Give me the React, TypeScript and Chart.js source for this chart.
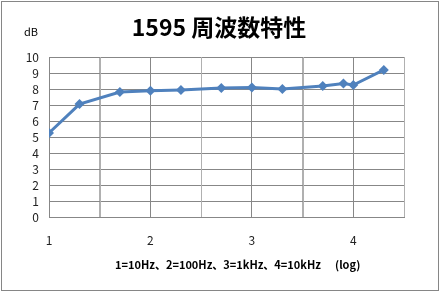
import React, { useEffect, useRef } from "react";
import { Chart, registerables } from "chart.js";

Chart.register(...registerables);

const logFreq: number[] = [1, 1.301, 1.699, 2, 2.301, 2.699, 3, 3.301, 3.699, 3.903, 4, 4.301];
const gainDb: number[] = [5.25, 7.06, 7.81, 7.89, 7.94, 8.06, 8.1, 8.0, 8.19, 8.35, 8.25, 9.19];
const xTickLabels: string[] = ["1", "2", "3", "4"];
const yTickValues: number[] = [0, 1, 2, 3, 4, 5, 6, 7, 8, 9, 10];
const xGridValues: number[] = [1, 1.5, 2, 2.5, 3, 3.5, 4, 4.5];
const titleText = "1595 周波数特性";
const yUnitText = "dB";
const xCaption = "1=10Hz、2=100Hz、3=1kHz、4=10kHz";
const xCaptionLog = "(log)";

const FONT = "'Noto Sans CJK JP', 'Noto Sans', sans-serif";
const MAJOR_GRID = "#878787";
const MINOR_GRID = "#b0b0b0";

const halfGridPlugin = {
  id: "halfGrid",
  beforeDatasetsDraw(chart: any) {
    const { ctx, chartArea, scales } = chart;
    ctx.save();
    ctx.strokeStyle = MINOR_GRID;
    ctx.lineWidth = 1;
    xGridValues.forEach((v) => {
      if (Number.isInteger(v)) return;
      const px = Math.round(scales.x.getPixelForValue(v)) + 0.5;
      ctx.beginPath();
      ctx.moveTo(px, chartArea.top);
      ctx.lineTo(px, chartArea.bottom);
      ctx.stroke();
    });
    ctx.restore();
  },
};

const textPlugin = {
  id: "texts",
  afterDraw(chart: any) {
    const ctx = chart.ctx;
    ctx.save();
    ctx.fillStyle = "#000";
    ctx.textBaseline = "middle";
    ctx.textAlign = "center";
    ctx.font = `bold 23px ${FONT}`;
    ctx.fillText(titleText, 219, 27);
    ctx.font = `11px ${FONT}`;
    ctx.fillText(yUnitText, 31, 32);
    ctx.textAlign = "left";
    ctx.font = `bold 11px ${FONT}`;
    ctx.fillText(xCaption, 115, 265);
    ctx.fillText(xCaptionLog, 335, 265);
    ctx.restore();
  },
};

export default function App() {
  const ref = useRef<HTMLCanvasElement | null>(null);
  useEffect(() => {
    if (!ref.current) return;
    const chart = new Chart(ref.current, {
      type: "scatter",
      data: {
        datasets: [
          {
            data: logFreq.map((x, i) => ({ x, y: gainDb[i] })),
            showLine: true,
            borderColor: "#4f81bd",
            backgroundColor: "#4f81bd",
            borderWidth: 3,
            pointStyle: "rectRot",
            pointRadius: 5,
            pointBorderWidth: 0,
          },
        ],
      },
      options: {
        responsive: false,
        animation: false,
        layout: { padding: { left: 0, right: 35, top: 57, bottom: 0 } },
        plugins: { legend: { display: false }, tooltip: { enabled: false }, title: { display: false } },
        scales: {
          x: {
            type: "linear",
            min: 1,
            max: 4.5,
            afterFit: (s: any) => { s.height = 74; },
            afterBuildTicks: (s: any) => {
              s.ticks = xGridValues.map((value) => ({ value }));
            },
            ticks: {
              source: "data",
              padding: 16,
              maxRotation: 0,
              autoSkip: false,
              color: "#222",
              font: { family: FONT, size: 12 },
              callback: (v: any) => {
                const i = xTickLabels.indexOf(String(v));
                return i >= 0 ? xTickLabels[i] : "";
              },
            },
            grid: {
              drawTicks: false,
              color: (c: any) => (c.tick && Number.isInteger(c.tick.value) ? MAJOR_GRID : MINOR_GRID),
              lineWidth: 1,
            },
            border: { color: MAJOR_GRID },
          },
          y: {
            min: 0,
            max: 10,
            afterFit: (s: any) => { s.width = 49; },
            afterBuildTicks: (s: any) => {
              s.ticks = yTickValues.map((value) => ({ value }));
            },
            ticks: {
              source: "data",
              autoSkip: false,
              padding: 10,
              color: "#222",
              font: { family: FONT, size: 12 },
            },
            grid: { drawTicks: false, color: MAJOR_GRID, lineWidth: 1 },
            border: { color: MAJOR_GRID },
          },
        },
      },
      plugins: [halfGridPlugin, textPlugin],
    });
    return () => chart.destroy();
  }, []);
  return (
    <div style={{ position: "fixed", left: 0, top: 0, width: 439, height: 291, background: "#fff" }}>
      <canvas ref={ref} width={439} height={291} style={{ position: "absolute", left: 0, top: 0 }} />
      <div
        style={{
          position: "absolute",
          left: 1,
          top: 1,
          width: 436,
          height: 288,
          border: "1px solid #868686",
          pointerEvents: "none",
        }}
      />
    </div>
  );
}
